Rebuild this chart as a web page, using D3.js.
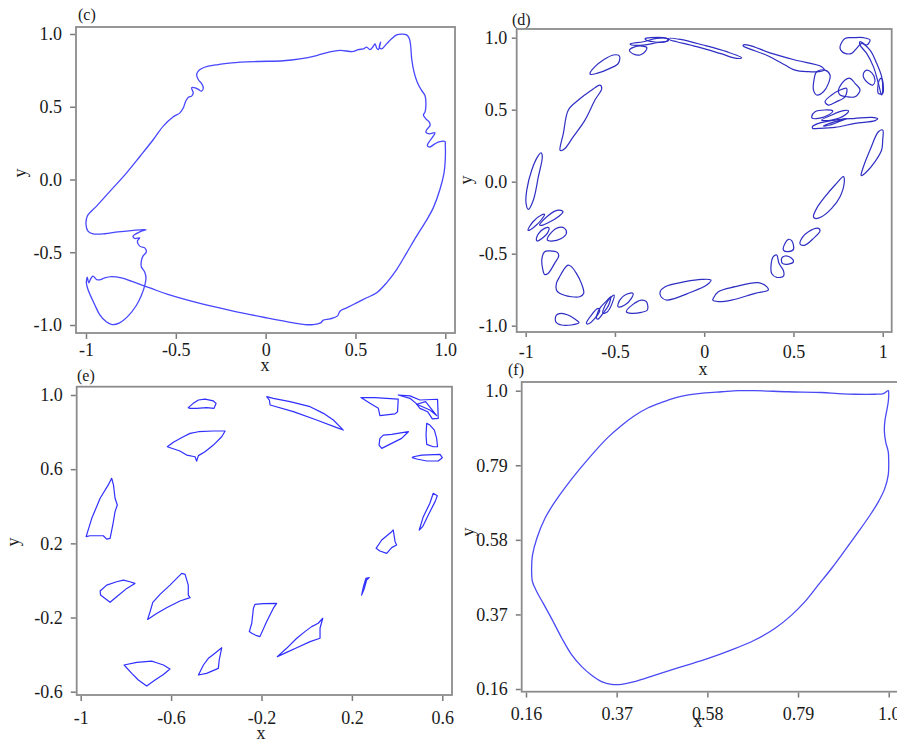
<!DOCTYPE html>
<html>
<head>
<meta charset="utf-8">
<script src="https://cdn.jsdelivr.net/npm/d3@7"></script>
<style>
  body { margin: 0; background: #fff; }
  text { font-family: "Liberation Serif", "Times New Roman", serif; fill: #1a1a1a; }
</style>
</head>
<body>
<svg id="fig" width="897" height="742"></svg>
<script>
// ---- Phase-plane trajectories (x, y) ----

// (c) single closed orbit with small oscillations
const orbitC = [
  [0.414,0.887],[0.488,0.880],[0.516,0.893],[0.544,0.898],[0.562,0.910],[0.581,0.893],[0.599,0.916],[0.609,0.932],
  [0.618,0.903],[0.627,0.893],[0.640,0.944],[0.633,0.910],[0.646,0.898],[0.673,0.932],[0.701,0.967],[0.729,0.994],
  [0.757,0.999],[0.785,0.994],[0.800,0.967],[0.807,0.921],[0.813,0.829],[0.826,0.738],[0.844,0.669],[0.868,0.612],
  [0.887,0.577],[0.892,0.509],[0.887,0.463],[0.878,0.444],[0.892,0.417],[0.911,0.394],[0.915,0.371],[0.900,0.348],
  [0.892,0.325],[0.911,0.314],[0.942,0.321],[0.929,0.291],[0.915,0.268],[0.900,0.234],[0.911,0.222],[0.942,0.245],
  [0.970,0.261],[0.998,0.261],[1.000,0.234],[1.000,0.142],[0.993,0.046],[0.970,-0.069],[0.933,-0.195],[0.896,-0.279],
  [0.840,-0.389],[0.785,-0.504],[0.729,-0.619],[0.673,-0.710],[0.618,-0.779],[0.562,-0.813],[0.506,-0.848],[0.451,-0.882],
  [0.414,-0.905],[0.399,-0.939],[0.358,-0.958],[0.321,-0.967],[0.306,-0.985],[0.265,-0.997],[0.219,-0.997],[0.154,-0.985],
  [0.006,-0.951],[-0.180,-0.905],[-0.365,-0.852],[-0.544,-0.790],[-0.636,-0.749],[-0.692,-0.724],[-0.748,-0.699],[-0.803,-0.676],
  [-0.859,-0.667],[-0.896,-0.676],[-0.924,-0.690],[-0.942,-0.687],[-0.961,-0.664],[-0.974,-0.683],[-0.985,-0.710],[-0.993,-0.671],
  [-0.998,-0.710],[-0.989,-0.756],[-0.952,-0.859],[-0.924,-0.928],[-0.887,-0.978],[-0.855,-0.997],[-0.813,-0.985],[-0.766,-0.939],
  [-0.720,-0.866],[-0.692,-0.797],[-0.673,-0.729],[-0.666,-0.676],[-0.673,-0.637],[-0.692,-0.600],[-0.692,-0.561],[-0.683,-0.527],
  [-0.664,-0.497],[-0.673,-0.470],[-0.701,-0.458],[-0.714,-0.424],[-0.701,-0.401],[-0.729,-0.405],[-0.738,-0.389],[-0.701,-0.360],
  [-0.664,-0.344],[-0.748,-0.351],[-0.822,-0.360],[-0.896,-0.373],[-0.961,-0.373],[-0.989,-0.355],[-1.000,-0.309],[-0.993,-0.252],
  [-0.941,-0.183],[-0.866,-0.080],[-0.774,0.046],[-0.699,0.160],[-0.625,0.275],[-0.570,0.367],[-0.514,0.431],[-0.477,0.458],
  [-0.458,0.493],[-0.445,0.538],[-0.430,0.566],[-0.412,0.573],[-0.403,0.596],[-0.412,0.630],[-0.393,0.630],[-0.375,0.619],
  [-0.356,0.607],[-0.347,0.630],[-0.356,0.658],[-0.375,0.687],[-0.384,0.722],[-0.375,0.745],[-0.356,0.763],[-0.319,0.779],
  [-0.263,0.790],[-0.189,0.802],[-0.050,0.811],[0.098,0.816],[0.191,0.829],[0.284,0.852],[0.358,0.877]
];

// (d) ring of small closed islands
const islandsD = [
  [[-0.914,0.201],[-0.907,0.174],[-0.929,0.035],[-0.957,-0.127],[-0.985,-0.192],[-0.998,-0.150],[-0.994,-0.058],[-0.966,0.081],[-0.933,0.174]],
  [[-0.987,-0.336],[-0.959,-0.278],[-0.912,-0.231],[-0.894,-0.227],[-0.909,-0.259],[-0.940,-0.301],[-0.978,-0.336]],
  [[-0.922,-0.301],[-0.875,-0.236],[-0.819,-0.197],[-0.791,-0.208],[-0.810,-0.236],[-0.856,-0.273],[-0.903,-0.301]],
  [[-0.940,-0.405],[-0.927,-0.359],[-0.894,-0.324],[-0.871,-0.319],[-0.879,-0.359],[-0.909,-0.394],[-0.935,-0.412]],
  [[-0.879,-0.405],[-0.856,-0.352],[-0.819,-0.319],[-0.782,-0.324],[-0.772,-0.359],[-0.800,-0.394],[-0.856,-0.412]],
  [[-0.894,-0.486],[-0.866,-0.481],[-0.823,-0.491],[-0.815,-0.514],[-0.838,-0.567],[-0.875,-0.637],[-0.894,-0.644],[-0.907,-0.590],[-0.909,-0.532]],
  [[-0.763,-0.579],[-0.744,-0.590],[-0.716,-0.637],[-0.688,-0.706],[-0.675,-0.775],[-0.697,-0.799],[-0.744,-0.799],[-0.810,-0.775],[-0.828,-0.752],[-0.828,-0.706],[-0.810,-0.660],[-0.782,-0.602]],
  [[-0.828,-0.926],[-0.800,-0.914],[-0.763,-0.926],[-0.725,-0.954],[-0.701,-0.979],[-0.744,-0.995],[-0.800,-0.995],[-0.832,-0.972]],
  [[-0.660,-0.984],[-0.632,-0.926],[-0.595,-0.880],[-0.585,-0.891],[-0.613,-0.949],[-0.651,-0.988]],
  [[-0.604,-0.949],[-0.585,-0.880],[-0.548,-0.829],[-0.524,-0.799],[-0.535,-0.856],[-0.567,-0.914],[-0.595,-0.954]],
  [[-0.567,-0.914],[-0.554,-0.856],[-0.520,-0.799],[-0.505,-0.787],[-0.516,-0.845],[-0.542,-0.903]],
  [[-0.483,-0.868],[-0.473,-0.822],[-0.436,-0.782],[-0.399,-0.775],[-0.408,-0.810],[-0.445,-0.856]],
  [[-0.436,-0.903],[-0.399,-0.852],[-0.352,-0.822],[-0.324,-0.833],[-0.318,-0.891],[-0.352,-0.907],[-0.408,-0.914]],
  [[-0.247,-0.764],[-0.219,-0.729],[-0.107,-0.694],[-0.014,-0.678],[0.038,-0.683],[0.014,-0.718],[-0.089,-0.775],[-0.163,-0.810],[-0.210,-0.822],[-0.242,-0.799]],
  [[0.051,-0.810],[0.079,-0.764],[0.173,-0.729],[0.303,-0.701],[0.350,-0.729],[0.359,-0.752],[0.285,-0.775],[0.154,-0.822],[0.079,-0.833],[0.048,-0.822]],
  [[0.374,-0.590],[0.387,-0.521],[0.406,-0.509],[0.419,-0.567],[0.444,-0.618],[0.444,-0.655],[0.406,-0.664],[0.378,-0.637]],
  [[0.434,-0.532],[0.453,-0.516],[0.490,-0.532],[0.500,-0.556],[0.472,-0.572],[0.438,-0.567]],
  [[0.444,-0.475],[0.453,-0.428],[0.472,-0.400],[0.490,-0.410],[0.500,-0.470],[0.472,-0.486]],
  [[0.537,-0.433],[0.550,-0.387],[0.584,-0.347],[0.640,-0.324],[0.649,-0.340],[0.612,-0.394],[0.565,-0.440]],
  [[0.612,-0.243],[0.630,-0.185],[0.677,-0.104],[0.733,-0.023],[0.780,0.035],[0.785,0.000],[0.761,-0.104],[0.714,-0.185],[0.658,-0.243],[0.621,-0.255]],
  [[0.879,0.046],[0.892,0.104],[0.929,0.220],[0.976,0.347],[1.000,0.359],[1.000,0.289],[0.994,0.220],[0.957,0.139],[0.910,0.069],[0.882,0.042]],
  [[0.602,0.451],[0.621,0.486],[0.677,0.498],[0.720,0.491],[0.696,0.463],[0.640,0.440],[0.606,0.440]],
  [[0.606,0.382],[0.640,0.405],[0.733,0.428],[0.845,0.440],[0.938,0.447],[0.972,0.438],[0.957,0.424],[0.845,0.405],[0.733,0.377],[0.640,0.370],[0.608,0.370]],
  [[0.658,0.428],[0.714,0.463],[0.780,0.493],[0.808,0.493],[0.789,0.463],[0.714,0.428]],
  [[0.668,0.387],[0.733,0.417],[0.798,0.440],[0.770,0.424],[0.705,0.394]],
  [[0.219,0.949],[0.247,0.949],[0.378,0.891],[0.509,0.845],[0.658,0.799],[0.673,0.775],[0.640,0.764],[0.584,0.764],[0.509,0.775],[0.453,0.810],[0.359,0.873],[0.247,0.926],[0.219,0.942]],
  [[0.630,0.764],[0.677,0.775],[0.705,0.741],[0.696,0.683],[0.668,0.625],[0.630,0.602],[0.612,0.637],[0.615,0.706]],
  [[0.752,0.637],[0.789,0.706],[0.817,0.718],[0.845,0.683],[0.873,0.637],[0.845,0.590],[0.798,0.590],[0.761,0.602]],
  [[0.677,0.556],[0.714,0.602],[0.761,0.637],[0.798,0.648],[0.789,0.590],[0.742,0.556],[0.696,0.532]],
  [[0.761,0.938],[0.789,0.995],[0.836,1.000],[0.892,1.000],[0.929,0.984],[0.910,0.949],[0.882,0.961],[0.854,0.926],[0.826,0.891],[0.789,0.891],[0.765,0.914]],
  [[0.873,0.972],[0.929,0.914],[0.966,0.822],[0.994,0.729],[1.000,0.637],[0.994,0.602],[0.976,0.683],[0.948,0.799],[0.910,0.891],[0.873,0.949]],
  [[0.976,0.613],[0.981,0.706],[0.994,0.718],[1.000,0.613]],
  [[0.892,0.752],[0.910,0.775],[0.938,0.757],[0.957,0.706],[0.944,0.671],[0.920,0.683],[0.895,0.718]],
  [[-0.640,0.752],[-0.612,0.799],[-0.565,0.845],[-0.509,0.880],[-0.475,0.873],[-0.481,0.822],[-0.528,0.787],[-0.602,0.752],[-0.636,0.745]],
  [[-0.419,0.914],[-0.397,0.933],[-0.350,0.942],[-0.322,0.933],[-0.331,0.903],[-0.359,0.880],[-0.397,0.887]],
  [[-0.415,0.956],[-0.341,0.972],[-0.266,0.995],[-0.210,0.995],[-0.201,0.979],[-0.266,0.965],[-0.341,0.949],[-0.406,0.949]],
  [[-0.331,0.995],[-0.303,1.000],[-0.229,1.000],[-0.201,0.988],[-0.219,0.972],[-0.285,0.972],[-0.326,0.984]],
  [[-0.201,0.995],[-0.135,0.988],[-0.005,0.949],[0.126,0.903],[0.210,0.861],[0.182,0.856],[0.089,0.891],[-0.042,0.938],[-0.154,0.972],[-0.191,0.984]],
  [[-0.808,0.220],[-0.789,0.336],[-0.761,0.498],[-0.705,0.567],[-0.630,0.637],[-0.584,0.671],[-0.574,0.648],[-0.612,0.567],[-0.668,0.428],[-0.733,0.313],[-0.780,0.231],[-0.802,0.215]]
];

// (e) ring of polygonal islands
const islandsE = [
  [[-0.524,0.932],[-0.502,0.955],[-0.479,0.973],[-0.450,0.978],[-0.413,0.968],[-0.401,0.955],[-0.410,0.928],[-0.443,0.932],[-0.487,0.928],[-0.516,0.928]],
  [[-0.177,0.991],[-0.148,0.982],[-0.074,0.964],[0.015,0.937],[0.074,0.901],[0.118,0.865],[0.162,0.811],[0.133,0.824],[0.044,0.865],[-0.059,0.910],[-0.162,0.946],[-0.165,0.973]],
  [[0.240,0.986],[0.302,0.986],[0.405,0.978],[0.402,0.910],[0.391,0.898],[0.324,0.889],[0.317,0.928],[0.280,0.955]],
  [[0.405,1.000],[0.457,0.995],[0.501,0.973],[0.579,0.977],[0.582,0.874],[0.556,0.871],[0.535,0.910],[0.501,0.928],[0.484,0.955],[0.457,0.982]],
  [[0.487,0.950],[0.526,0.964],[0.575,0.889],[0.545,0.919]],
  [[0.531,0.847],[0.545,0.838],[0.565,0.811],[0.575,0.766],[0.579,0.721],[0.560,0.721],[0.531,0.734],[0.528,0.784]],
  [[0.324,0.766],[0.339,0.784],[0.376,0.788],[0.450,0.802],[0.420,0.766],[0.376,0.739],[0.332,0.712],[0.320,0.730]],
  [[0.472,0.667],[0.509,0.676],[0.590,0.680],[0.600,0.662],[0.582,0.644],[0.531,0.644],[0.487,0.655],[0.467,0.662]],
  [[0.498,0.272],[0.516,0.344],[0.545,0.416],[0.560,0.470],[0.578,0.457],[0.568,0.425],[0.538,0.353],[0.513,0.290]],
  [[0.307,0.173],[0.332,0.218],[0.376,0.263],[0.383,0.272],[0.391,0.209],[0.398,0.191],[0.376,0.177],[0.354,0.146],[0.324,0.159]],
  [[0.243,-0.079],[0.251,-0.034],[0.262,0.011],[0.277,0.015],[0.265,0.002],[0.255,-0.043]],
  [[-0.976,0.236],[-0.951,0.335],[-0.914,0.443],[-0.878,0.515],[-0.863,0.551],[-0.855,0.515],[-0.848,0.443],[-0.838,0.407],[-0.848,0.371],[-0.858,0.299],[-0.870,0.227],[-0.885,0.223],[-0.900,0.241],[-0.929,0.241],[-0.959,0.241]],
  [[-0.914,-0.057],[-0.885,-0.025],[-0.841,-0.007],[-0.811,0.002],[-0.782,-0.007],[-0.760,-0.016],[-0.796,-0.043],[-0.841,-0.088],[-0.870,-0.118],[-0.892,-0.097],[-0.912,-0.079]],
  [[-0.704,-0.210],[-0.693,-0.169],[-0.681,-0.118],[-0.649,-0.075],[-0.605,-0.025],[-0.553,0.038],[-0.538,0.033],[-0.524,-0.025],[-0.524,-0.079],[-0.516,-0.093],[-0.561,-0.111],[-0.620,-0.147],[-0.664,-0.178]],
  [[-0.254,-0.276],[-0.243,-0.231],[-0.236,-0.151],[-0.229,-0.129],[-0.192,-0.125],[-0.133,-0.124],[-0.148,-0.151],[-0.177,-0.222],[-0.207,-0.303],[-0.221,-0.298],[-0.243,-0.285]],
  [[-0.130,-0.411],[-0.089,-0.366],[-0.044,-0.312],[-0.008,-0.276],[0.022,-0.249],[0.051,-0.231],[0.071,-0.204],[0.059,-0.258],[0.059,-0.312],[0.015,-0.330],[-0.044,-0.363],[-0.089,-0.388]],
  [[-0.479,-0.510],[-0.457,-0.456],[-0.435,-0.420],[-0.413,-0.399],[-0.376,-0.363],[-0.387,-0.429],[-0.391,-0.474],[-0.443,-0.501]],
  [[-0.808,-0.456],[-0.752,-0.442],[-0.686,-0.435],[-0.664,-0.444],[-0.634,-0.456],[-0.605,-0.478],[-0.634,-0.507],[-0.671,-0.537],[-0.708,-0.569],[-0.745,-0.537],[-0.774,-0.501]],
  [[-0.617,0.721],[-0.590,0.745],[-0.546,0.775],[-0.516,0.793],[-0.479,0.802],[-0.413,0.806],[-0.361,0.806],[-0.376,0.775],[-0.413,0.730],[-0.450,0.694],[-0.479,0.673],[-0.487,0.644],[-0.494,0.667],[-0.531,0.676],[-0.561,0.698]]
];

// (f) single smooth limit cycle
const orbitF = [
  [0.999,1.000],[0.988,0.992],[0.968,0.990],[0.922,0.990],[0.883,0.992],[0.845,0.995],[0.768,0.997],[0.690,1.000],
  [0.652,1.000],[0.613,0.997],[0.575,0.994],[0.536,0.988],[0.505,0.980],[0.474,0.967],[0.443,0.952],[0.412,0.930],
  [0.382,0.903],[0.351,0.870],[0.320,0.830],[0.289,0.786],[0.258,0.739],[0.227,0.687],[0.204,0.641],[0.185,0.584],
  [0.175,0.537],[0.173,0.500],[0.175,0.462],[0.185,0.434],[0.200,0.401],[0.219,0.359],[0.243,0.303],[0.266,0.256],
  [0.289,0.223],[0.312,0.199],[0.335,0.181],[0.358,0.173],[0.382,0.173],[0.412,0.181],[0.459,0.199],[0.521,0.223],
  [0.582,0.246],[0.636,0.270],[0.690,0.298],[0.737,0.331],[0.775,0.368],[0.806,0.406],[0.837,0.453],[0.868,0.500],
  [0.899,0.551],[0.930,0.603],[0.957,0.650],[0.976,0.687],[0.991,0.725],[0.999,0.763],[1.000,0.800],[0.999,0.828],
  [0.993,0.856],[0.990,0.885],[0.991,0.913],[0.995,0.941],[0.999,0.969],[1.000,0.992]
];

// ---- Axis ticks ----
const ticksC = [-1, -0.5, 0, 0.5, 1];
const xLabelsC = ["-1", "-0.5", "0", "0.5", "1.0"];
const yLabelsC = ["-1.0", "-0.5", "0.0", "0.5", "1.0"];
const ticksD = [-1, -0.5, 0, 0.5, 1];
const xLabelsD = ["-1", "-0.5", "0", "0.5", "1"];
const yLabelsD = ["-1.0", "-0.5", "0.0", "0.5", "1.0"];
const xTicksE = [-1, -0.6, -0.2, 0.2, 0.6];
const xLabelsE = ["-1", "-0.6", "-0.2", "0.2", "0.6"];
const yTicksE = [-0.6, -0.2, 0.2, 0.6, 1.0];
const yLabelsE = ["-0.6", "-0.2", "0.2", "0.6", "1.0"];
const ticksF = [0.16, 0.37, 0.58, 0.79, 1.0];
const labelsF = ["0.16", "0.37", "0.58", "0.79", "1.0"];

// ---- Layout ----
const svg = d3.select("#fig");
const FONT = 18;

const panels = [
  { tag: "(c)", loops: [orbitC], xDomain: [-1, 1], yDomain: [-1, 1],
    frame: { l: 76, t: 27, r: 455, b: 333 }, xRange: [86, 445.3], yRange: [325, 34],
    xTicks: ticksC, xLabels: xLabelsC, yTicks: ticksC, yLabels: yLabelsC,
    ySize: 5, yPad: 8, xSize: 5, xPad: 4,
    tagPos: [78, 20], xTitle: [265, 371], yTitle: [22, 173],
    color: "#4747ff", width: 1.3, curve: d3.curveCatmullRomClosed.alpha(0.5) },
  { tag: "(d)", loops: islandsD, xDomain: [-1, 1], yDomain: [-1, 1],
    frame: { l: 516.7, t: 29, r: 891.7, b: 332 }, xRange: [525.7, 882.7], yRange: [325.7, 37.7],
    xTicks: ticksD, xLabels: xLabelsD, yTicks: ticksD, yLabels: yLabelsD,
    ySize: 4, yPad: 4.5, xSize: 4, xPad: 8,
    tagPos: [512, 25], xTitle: [703, 375], yTitle: [468, 180],
    color: "#2e2ec4", width: 1.2, curve: d3.curveCatmullRomClosed.alpha(0.5) },
  { tag: "(e)", loops: islandsE, xDomain: [-1, 0.6], yDomain: [-0.6, 1],
    frame: { l: 76.7, t: 386.7, r: 452, b: 695 }, xRange: [80.7, 442.3], yRange: [691.7, 395],
    xTicks: xTicksE, xLabels: xLabelsE, yTicks: yTicksE, yLabels: yLabelsE,
    ySize: 5, yPad: 8, xSize: 5, xPad: 10,
    tagPos: [77, 381], xTitle: [261, 739], yTitle: [15, 542],
    color: "#2f2fff", width: 1.2, curve: d3.curveLinearClosed },
  { tag: "(f)", loops: [orbitF], xDomain: [0.16, 1], yDomain: [0.16, 1],
    frame: { l: 521.7, t: 382, r: 905, b: 691.7 }, xRange: [526, 888.7], yRange: [689, 390.7],
    xTicks: ticksF, xLabels: labelsF, yTicks: ticksF, yLabels: labelsF,
    ySize: 5, yPad: 8, xSize: 5, xPad: 10,
    tagPos: [508, 375], xTitle: [698, 727], yTitle: [470, 532],
    color: "#4a4af5", width: 1.3, curve: d3.curveCatmullRomClosed.alpha(0.5) }
];

panels.forEach(p => {
  const g = svg.append("g");
  const x = d3.scaleLinear().domain(p.xDomain).range(p.xRange);
  const y = d3.scaleLinear().domain(p.yDomain).range(p.yRange);
  const f = p.frame;

  // frame box
  g.append("rect")
    .attr("x", f.l).attr("y", f.t)
    .attr("width", f.r - f.l).attr("height", f.b - f.t)
    .attr("fill", "none").attr("stroke", "#8c8c8c").attr("stroke-width", 1.8);

  // axes
  const xAxis = d3.axisBottom(x)
    .tickValues(p.xTicks).tickFormat((d, i) => p.xLabels[i])
    .tickSize(p.xSize).tickPadding(p.xPad);
  const yAxis = d3.axisLeft(y)
    .tickValues(p.yTicks).tickFormat((d, i) => p.yLabels[i])
    .tickSize(p.ySize).tickPadding(p.yPad);

  const gx = g.append("g").attr("transform", `translate(0,${f.b + 0.9})`).call(xAxis);
  const gy = g.append("g").attr("transform", `translate(${f.l - 0.9},0)`).call(yAxis);
  [gx, gy].forEach(a => {
    a.select(".domain").remove();
    a.selectAll(".tick line").attr("stroke", "#7a7a7a").attr("stroke-width", 1.5);
    a.selectAll(".tick text")
      .style("font-family", '"Liberation Serif", "Times New Roman", serif')
      .style("font-size", FONT + "px").attr("fill", "#1a1a1a");
  });

  // trajectories
  const line = d3.line().x(d => x(d[0])).y(d => y(d[1])).curve(p.curve);
  g.append("g").selectAll("path").data(p.loops).join("path")
    .attr("d", line)
    .attr("fill", "none")
    .attr("stroke", p.color)
    .attr("stroke-width", p.width)
    .attr("stroke-linejoin", "round");

  // panel tag and axis titles
  g.append("text").attr("x", p.tagPos[0]).attr("y", p.tagPos[1])
    .style("font-size", "16px").text(p.tag);
  g.append("text").attr("x", p.xTitle[0]).attr("y", p.xTitle[1])
    .attr("text-anchor", "middle").style("font-size", FONT + "px").text("x");
  g.append("text")
    .attr("transform", `translate(${p.yTitle[0] + 4},${p.yTitle[1]}) rotate(-90)`)
    .attr("text-anchor", "middle").style("font-size", FONT + "px").text("y");
});
</script>
</body>
</html>
